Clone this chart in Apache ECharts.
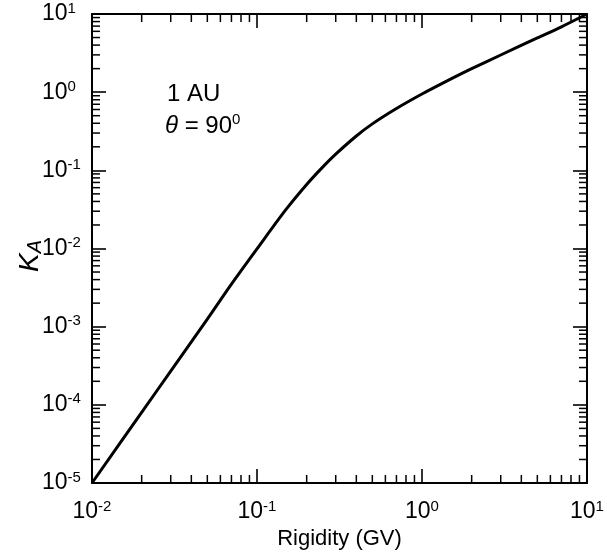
<!DOCTYPE html>
<html>
<head>
<meta charset="utf-8">
<script src="https://cdn.jsdelivr.net/npm/echarts@6/dist/echarts.min.js"></script>
<style>
html,body{margin:0;padding:0;background:#fff;}
#chart{width:607px;height:558px;}
</style>
</head>
<body>
<div id="chart"></div>
<script>
// ---- data ----
const rigidity = [0.01, 0.02, 0.03, 0.05, 0.07, 0.1, 0.15, 0.2, 0.25, 0.3, 0.4, 0.5, 0.7, 1, 1.5, 2, 3, 5, 7, 10];
const kA       = [1.0e-5, 8.0e-5, 2.7e-4, 1.25e-3, 3.5e-3, 9.9e-3, 0.0316, 0.066, 0.110, 0.161, 0.275, 0.393, 0.618, 0.948, 1.48, 2.0, 2.99, 4.94, 6.86, 10];

const xMajorTicks = [0.01, 0.1, 1, 10];
const yMajorTicks = [1e-5, 1e-4, 1e-3, 1e-2, 1e-1, 1, 10];
const minorMultipliers = [2, 3, 4, 5, 6, 7, 8, 9];

const xMin = 0.01, xMax = 10, yMin = 1e-5, yMax = 10;

function minorList(majors) {
  const out = [];
  for (let i = 0; i < majors.length - 1; i++) {
    minorMultipliers.forEach(m => out.push(majors[i] * m));
  }
  return out;
}
const xMinor = minorList(xMajorTicks);
const yMinor = minorList(yMajorTicks);

const FONT = '"Liberation Sans", Arial, Helvetica, sans-serif';
const black = '#000';

function expLabel(v) {
  const e = Math.round(Math.log10(v));
  return '{b|10}{s|' + e + '}';
}
const labelRich = {
  b: { fontSize: 23, fontFamily: FONT, color: black, lineHeight: 26 },
  s: { fontSize: 15, fontFamily: FONT, color: black, lineHeight: 18, verticalAlign: 'top' }
};

const axisLineStyle = { color: black, width: 2 };
const MAJOR = 14, MINOR = 8;

function makeX(pos, showLabel) {
  return {
    type: 'log', logBase: 10, min: xMin, max: xMax, position: pos, gridIndex: 0,
    axisLine: { show: true, onZero: false, lineStyle: axisLineStyle },
    axisTick: { show: true, inside: true, length: MAJOR, lineStyle: { color: black, width: 1.6 } },
    axisLabel: showLabel ? { show: true, margin: 16, formatter: expLabel, rich: labelRich } : { show: false },
    splitLine: { show: false },
    name: showLabel ? 'Rigidity (GV)' : '',
    nameLocation: 'middle', nameGap: 42,
    nameTextStyle: { fontSize: 22, fontFamily: FONT, color: black }
  };
}
function makeY(pos, showLabel) {
  return {
    type: 'log', logBase: 10, min: yMin, max: yMax, position: pos, gridIndex: 0,
    axisLine: { show: true, onZero: false, lineStyle: axisLineStyle },
    axisTick: { show: true, inside: true, length: MAJOR, lineStyle: { color: black, width: 1.6 } },
    axisLabel: showLabel ? { show: true, margin: 50, align: 'left', formatter: expLabel, rich: labelRich } : { show: false },
    splitLine: { show: false }
  };
}

function tickSeries(values, dim) {
  return {
    type: 'custom', coordinateSystem: 'cartesian2d', xAxisIndex: 0, yAxisIndex: 0,
    silent: true, clip: false, z: 5,
    data: values.map(v => dim === 'x' ? [v, yMin] : [xMin, v]),
    renderItem: function (params, api) {
      const v = api.value(dim === 'x' ? 0 : 1);
      let a, b;
      if (dim === 'x') { a = api.coord([v, yMin]); b = api.coord([v, yMax]); }
      else { a = api.coord([xMin, v]); b = api.coord([xMax, v]); }
      const st = { stroke: black, lineWidth: 1.5 };
      if (dim === 'x') {
        return { type: 'group', children: [
          { type: 'line', shape: { x1: a[0], y1: a[1], x2: a[0], y2: a[1] - MINOR }, style: st },
          { type: 'line', shape: { x1: b[0], y1: b[1], x2: b[0], y2: b[1] + MINOR }, style: st }
        ]};
      }
      return { type: 'group', children: [
        { type: 'line', shape: { x1: a[0], y1: a[1], x2: a[0] + MINOR, y2: a[1] }, style: st },
        { type: 'line', shape: { x1: b[0], y1: b[1], x2: b[0] - MINOR, y2: b[1] }, style: st }
      ]};
    }
  };
}

const chart = echarts.init(document.getElementById('chart'), null, { renderer: 'canvas' });
chart.setOption({
  animation: false,
  backgroundColor: '#fff',
  grid: { left: 92, right: 20, top: 14, bottom: 75, containLabel: false },
  xAxis: [makeX('bottom', true), makeX('top', false)],
  yAxis: [makeY('left', true), makeY('right', false)],
  graphic: [
    { type: 'text', x: 30, y: 256, rotation: Math.PI / 2, style: {
        text: '{k|K}{a|A}', align: 'center', verticalAlign: 'middle',
        rich: {
          k: { fontSize: 28, fontFamily: FONT, fontStyle: 'italic', fill: black, lineHeight: 30 },
          a: { fontSize: 20, fontFamily: FONT, fontStyle: 'italic', fill: black, lineHeight: 22, verticalAlign: 'bottom' }
        }
      } },
    { type: 'text', left: 167, top: 82, style: { text: '1 AU', font: '24px ' + FONT, fill: black } },
    { type: 'text', left: 165, top: 112, style: {
        text: '{t|θ}{e| = 90}{s|0}',
        rich: {
          t: { fontSize: 24, fontFamily: FONT, fontStyle: 'italic', fill: black, lineHeight: 28 },
          e: { fontSize: 24, fontFamily: FONT, fill: black, lineHeight: 28 },
          s: { fontSize: 15, fontFamily: FONT, fill: black, lineHeight: 17, verticalAlign: 'top' }
        }
      } }
  ],
  series: [
    {
      type: 'line', xAxisIndex: 0, yAxisIndex: 0,
      data: rigidity.map((r, i) => [r, kA[i]]),
      smooth: 0.3, showSymbol: false, symbol: 'none',
      lineStyle: { color: black, width: 3 }, z: 10
    },
    tickSeries(xMinor, 'x'),
    tickSeries(yMinor, 'y')
  ]
});
</script>
</body>
</html>
